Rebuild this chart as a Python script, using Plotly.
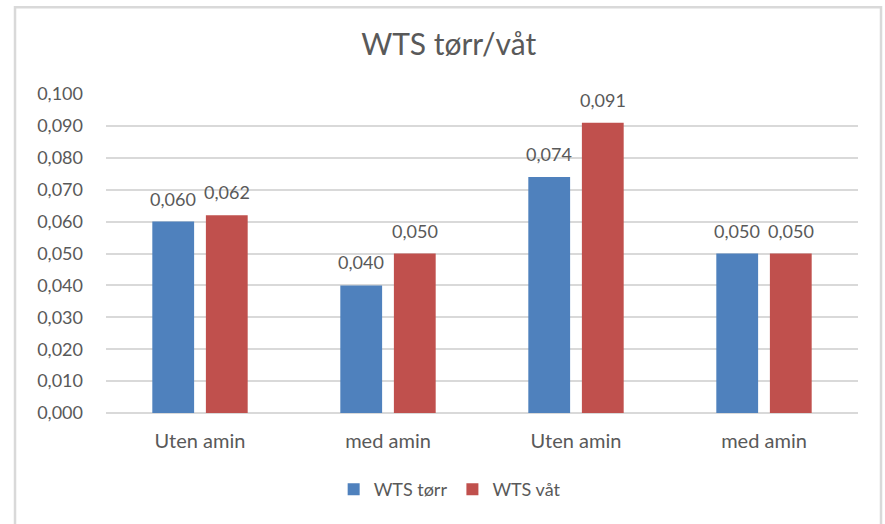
import plotly.graph_objects as go

categories = ["Uten amin", "med amin", "Uten amin", "med amin"]
wts_torr = [0.060, 0.040, 0.074, 0.050]
wts_vat = [0.062, 0.050, 0.091, 0.050]
y_ticks = [0.0, 0.01, 0.02, 0.03, 0.04, 0.05, 0.06, 0.07, 0.08, 0.09, 0.10]

positions = list(range(len(categories)))
font_family = "Lato, 'Open Sans', sans-serif"
grey = "#595959"
bargap = 0.43
slot = (1 - bargap) / 2  # width of each bar slot inside a group

fig = go.Figure()
fig.add_trace(go.Bar(x=positions, y=wts_torr, name="WTS tørr",
                     marker=dict(color="#4F81BD", line=dict(width=0))))
fig.add_trace(go.Bar(x=positions, y=wts_vat, name="WTS våt",
                     marker=dict(color="#C0504D", line=dict(width=0))))

# value labels above each bar
annotations = []
for series, shift in ((wts_torr, -slot / 2), (wts_vat, slot / 2)):
    for p, v in zip(positions, series):
        annotations.append(dict(x=p + shift, y=v, xref="x", yref="y",
                                text=f"{v:.3f}".replace(".", ","),
                                showarrow=False, yanchor="bottom", yshift=10,
                                font=dict(size=18, color=grey)))

fig.update_layout(
    width=885, height=524,
    margin=dict(l=106, r=27, t=94, b=111),
    paper_bgcolor="white", plot_bgcolor="white",
    font=dict(family=font_family, color=grey, size=18),
    separators=", ",
    barmode="group", bargap=bargap, bargroupgap=0.22,
    title=dict(text="WTS tørr/våt", x=0.507, xref="container",
               y=0.915, yref="container", xanchor="center", yanchor="middle",
               font=dict(size=30, color=grey)),
    legend=dict(orientation="h", x=0.457, xanchor="center", y=-0.24,
                yanchor="middle", font=dict(size=18, color=grey),
                itemwidth=30, traceorder="normal"),
    showlegend=True,
    annotations=annotations,
    shapes=[dict(type="rect", xref="paper", yref="paper",
                 x0=-0.121, x1=1.0306, y0=-0.4, y1=1.272,
                 line=dict(color="#d9d9d9", width=2.5), layer="below")],
)
fig.update_xaxes(tickvals=positions, ticktext=categories, range=[-0.5, 3.5],
                 showgrid=False, showline=False, ticks="",
                 ticklabelstandoff=14, tickfont=dict(size=20, color=grey))
fig.update_yaxes(range=[0, 0.1], tickvals=y_ticks, tickformat=".3f",
                 showgrid=True, gridcolor="#d9d9d9", gridwidth=1.5,
                 zeroline=True, zerolinecolor="#d9d9d9", zerolinewidth=1.5,
                 showline=False, ticks="", ticklabelstandoff=22,
                 tickfont=dict(size=18, color=grey))

fig.write_html("out.html", config={"displayModeBar": False},
               post_script="document.body.style.margin='0';")
